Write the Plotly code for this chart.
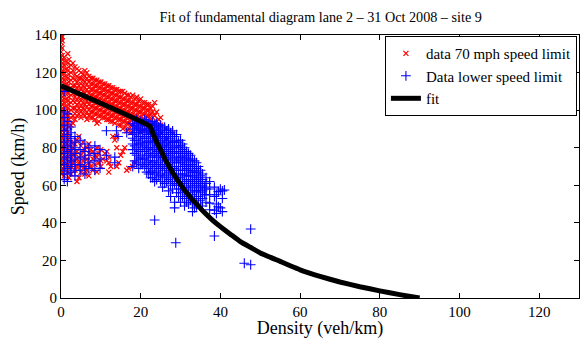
import plotly.graph_objects as go

# ---- data: (density column, [speeds]) ----
red_cols = [
    (0.0, [140, 139, 138, 136, 134, 131, 128, 126, 124, 122, 120, 118, 116, 114, 112, 110, 108, 106, 104, 102, 100, 98, 96, 94, 92, 90, 88, 86, 84, 82, 80, 78, 76, 74, 72, 70, 68, 66]),
    (0.3, [139, 137, 133, 129, 127, 125, 123, 121, 119, 117, 115, 113, 111, 109, 107, 105, 103, 101, 99, 97, 95, 93, 91, 89, 87, 85, 83, 81, 79, 77, 75, 73, 71, 69, 67]),
    (0.8, [128, 124, 120, 116, 112, 108, 104, 100, 96, 92, 88, 84, 80, 76, 72, 68, 65]),
    (1.3, [126, 122, 118, 114, 110, 106, 102, 98, 94, 90, 86, 82, 78, 74, 70]),
    (1.7, [130, 125, 121, 117, 113, 109, 105, 101, 97, 93, 88, 84, 79, 75, 71, 67]),
    (2.0, [127, 123, 119, 115, 111, 107, 103, 99, 95, 91, 86, 81, 77, 73, 69, 64]),
    (2.5, [124, 120, 116, 112, 108, 104, 100, 96, 92, 83, 78, 74, 70, 66]),
    (3.0, [125, 121, 117, 113, 109, 105, 101, 97, 93, 80, 76, 72]),
    (3.5, [123, 119, 116, 113, 110, 107, 104, 101, 98, 95, 82, 77, 73, 68]),
    (4.0, [122, 118, 115, 112, 109, 106, 103, 100, 97, 84, 78, 74, 70, 62]),
    (4.5, [121, 117, 113, 110, 107, 104, 101, 98, 86, 75, 72, 64]),
    (5.0, [120, 117, 114, 111, 108, 105, 102, 99, 96, 81, 76, 71, 67]),
    (5.5, [119, 116, 113, 110, 107, 104, 101, 98, 83, 78, 73, 69]),
    (6.0, [121, 118, 115, 112, 109, 106, 103, 100, 97, 79, 75, 70, 66]),
    (6.5, [120, 117, 114, 111, 108, 105, 102, 99, 95, 80, 74, 68]),
    (7.0, [118, 115, 112, 109, 106, 103, 100, 97, 82, 77, 72, 65]),
    (7.5, [117, 114, 111, 108, 105, 102, 99, 96, 79, 70]),
    (8.0, [117, 114, 111, 108, 105, 102, 99, 96, 78, 74, 68]),
    (8.5, [116, 113, 110, 107, 104, 101, 98, 95, 76, 71]),
    (9.0, [116, 113, 110, 107, 104, 101, 98, 93, 80, 75, 67]),
    (9.5, [115, 112, 109, 106, 103, 100, 97, 94, 77, 72]),
    (10.0, [115, 112, 109, 106, 103, 100, 97, 79, 73, 70]),
    (10.5, [114, 111, 108, 105, 102, 99, 96, 74]),
    (11.0, [114, 111, 108, 105, 102, 99, 96, 77]),
    (11.5, [113, 110, 107, 104, 101, 98, 95, 78, 73]),
    (12.0, [113, 110, 107, 104, 101, 98, 95, 75, 72, 67]),
    (12.5, [112, 109, 106, 103, 100, 97, 94, 70]),
    (13.0, [112, 109, 106, 103, 100, 97, 94, 86]),
    (13.5, [111, 108, 105, 102, 99, 96, 93, 84]),
    (14.0, [111, 108, 105, 102, 99, 96, 86, 80, 70]),
    (14.5, [110, 107, 104, 101, 98, 95, 92, 72]),
    (15.0, [110, 107, 104, 101, 98, 95, 92, 76]),
    (15.5, [110, 106, 103, 100, 97, 94, 90, 78]),
    (16.0, [109, 106, 103, 100, 97, 94, 91, 80]),
    (16.5, [108, 105, 102, 99, 96, 93, 89, 68]),
    (17.0, [108, 105, 102, 99, 96, 93, 90, 69]),
    (17.5, [107, 104, 101, 98, 95, 92, 88]),
    (18.0, [108, 104, 101, 98, 95, 92, 89, 70]),
    (18.5, [106, 103, 100, 97, 94, 91, 72]),
    (19.0, [107, 103, 100, 97, 94, 91]),
    (19.5, [105, 102, 99, 96, 93, 90]),
    (20.0, [106, 102, 99, 96, 93, 90, 88]),
    (20.5, [104, 101, 98, 95, 92, 89]),
    (21.0, [104, 101, 98, 95, 92, 89]),
    (21.5, [103, 100, 97, 94, 91]),
    (22.0, [103, 100, 97, 94, 91, 88]),
    (22.5, [101, 98, 95, 92, 89]),
    (23.0, [102, 99, 96, 93, 90]),
    (23.5, [104, 97, 93, 89]),
    (24.0, [99, 94, 90, 87]),
    (24.5, [95, 91, 86]),
    (25.0, [96, 92, 88]),
    (26.4, [90.5, 85]),
    (28.0, [87.8]),
]

blue_cols = [
    (0.8, [110, 99, 96, 92, 89, 86, 83, 80, 77, 74, 71, 68, 66, 63]),
    (1.6, [98, 94, 90, 87, 84, 81, 78, 75, 72, 69, 66, 62]),
    (2.5, [91, 88, 85, 82, 79, 76, 73, 70, 67]),
    (3.5, [86, 83, 80, 77, 74, 71, 68, 65]),
    (4.8, [84, 79, 75, 71, 68]),
    (6.0, [82, 78, 74, 70, 66]),
    (7.0, [80, 76, 72, 69]),
    (8.5, [81, 77, 73, 68]),
    (9.8, [79, 74, 69]),
    (11.4, [89, 76]),
    (13.5, [75, 72]),
    (13.9, [89]),
    (14.3, [86]),
    (16.5, [88]),
    (18.0, [93, 90, 87, 85, 82, 79, 70]),
    (18.5, [92, 88, 84, 81, 77, 73]),
    (19.0, [95, 91, 88, 84, 80, 76, 72]),
    (19.5, [93, 89, 86, 82, 78, 74, 69]),
    (20.0, [94, 90, 86, 83, 79, 75, 71]),
    (20.5, [93, 89, 85, 82, 78, 74, 71]),
    (21.0, [95, 92, 88, 85, 81, 78, 74, 70]),
    (21.5, [94, 90, 87, 83, 80, 76, 72, 67]),
    (22.0, [93, 90, 87, 84, 80, 77, 73, 69, 66]),
    (22.5, [92, 89, 86, 83, 79, 75, 71, 67, 64]),
    (23.0, [94, 91, 88, 85, 82, 79, 76, 72, 68, 64]),
    (23.5, [92, 89, 86, 83, 80, 77, 73, 70, 66, 62, 41.5]),
    (24.0, [93, 90, 87, 84, 81, 78, 75, 71, 67, 63]),
    (24.5, [91, 88, 85, 82, 79, 76, 72, 69, 65]),
    (25.0, [92, 89, 86, 83, 80, 77, 74, 70, 66, 62]),
    (25.5, [90, 87, 84, 81, 78, 75, 71, 68, 64, 59]),
    (26.0, [91, 88, 85, 82, 79, 76, 73, 69, 65, 61]),
    (26.5, [89, 86, 83, 80, 77, 74, 70, 66, 62]),
    (27.0, [90, 87, 84, 81, 78, 75, 71, 67, 63, 57]),
    (27.5, [88, 85, 82, 79, 76, 72, 68, 64, 60, 54]),
    (28.0, [89, 86, 83, 80, 77, 74, 70, 66, 62, 58]),
    (28.5, [86, 83, 80, 77, 73, 69, 65, 61, 51, 48]),
    (28.8, [29.4]),
    (29.0, [87, 84, 81, 78, 75, 72, 68, 64, 60, 56]),
    (29.5, [83, 80, 77, 74, 70, 66, 62, 58, 54]),
    (30.0, [84, 81, 78, 75, 72, 68, 64, 60, 56, 51]),
    (30.5, [82, 79, 76, 73, 70, 66, 62, 58, 54]),
    (31.0, [80, 77, 74, 71, 68, 65, 61, 57, 53, 49]),
    (31.5, [78, 75, 72, 69, 66, 63, 59, 55, 51]),
    (32.0, [77, 74, 71, 68, 65, 62, 58, 54, 50]),
    (32.5, [76, 73, 70, 67, 63, 60, 56, 52]),
    (33.0, [74, 71, 68, 65, 62, 59, 55, 51, 46]),
    (33.5, [73, 70, 67, 64, 61, 57, 53, 48]),
    (34.0, [72, 69, 66, 63, 60, 57, 53, 49]),
    (34.5, [70, 67, 64, 61, 58, 54, 50]),
    (35.0, [68, 65, 62, 59, 56, 52]),
    (35.5, [66, 63, 60, 57, 53, 49]),
    (36.0, [59, 55]),
    (36.4, [64, 61, 58, 55, 51]),
    (37.3, [62, 58, 55, 50.5, 47]),
    (38.5, [59, 54, 46.8, 33]),
    (39.0, [55, 50, 45]),
    (39.5, [56.6, 48.6]),
    (40.0, [58, 48]),
    (40.5, [57, 53, 46]),
    (41.0, [57.5]),
    (46.0, [18.5]),
    (47.6, [36.7, 17.7]),
]

fit_k = [0, 22.3, 23, 24, 25, 26, 27, 28, 29, 30, 31, 32.5, 34, 36, 38, 40, 42.5,
         45, 47.5, 50, 55, 60, 65, 70, 75, 80, 85, 90]
fit_v = [113, 91.5, 88, 83, 79, 74.5, 70.5, 67, 63.5, 60.5, 57.5, 53.5, 50, 45.5,
         41.5, 38, 34, 30, 27, 24, 19.5, 15, 11.5, 8.5, 6, 3.8, 1.8, 0]

x_ticks = [0, 20, 40, 60, 80, 100, 120]
y_ticks = [0, 20, 40, 60, 80, 100, 120, 140]


def flatten(cols):
    xs, ys = [], []
    for k, vs in cols:
        for v in vs:
            xs.append(k)
            ys.append(v)
    return xs, ys


rk, rv = flatten(red_cols)
bk, bv = flatten(blue_cols)

FONT = "Liberation Serif, Times New Roman, serif"

fig = go.Figure()
fig.add_trace(go.Scatter(
    x=rk, y=rv, mode="markers", name="data 70 mph speed limit",
    marker=dict(symbol="x-thin", size=5, color="#ff0000",
                line=dict(color="#ff0000", width=1.2)),
))
fig.add_trace(go.Scatter(
    x=bk, y=bv, mode="markers", name="Data lower speed limit",
    marker=dict(symbol="cross-thin", size=7, color="#0000ff",
                line=dict(color="#0000ff", width=1.1)),
))
fig.add_trace(go.Scatter(
    x=fit_k, y=fit_v, mode="lines", name="fit",
    line=dict(color="black", width=5, shape="spline", smoothing=0.3),
))

axis_common = dict(
    showline=True, linecolor="black", linewidth=1, mirror="ticks",
    ticks="inside", ticklen=5, tickcolor="black", showgrid=False,
    zeroline=False, tickfont=dict(family=FONT, size=15, color="black"),
)

fig.update_layout(
    width=581, height=339,
    margin=dict(l=61, r=2, t=35, b=41),
    paper_bgcolor="white", plot_bgcolor="white",
    title=dict(text="Fit of fundamental diagram lane 2 \u2013 31 Oct 2008 \u2013 site 9",
               x=0.552, xanchor="center", y=0.965, yanchor="top",
               font=dict(family=FONT, size=14.2, color="black")),
    xaxis=dict(range=[0, 130], tickvals=x_ticks,
               title=dict(text="Density (veh/km)", standoff=3,
                          font=dict(family=FONT, size=18, color="black")),
               **axis_common),
    yaxis=dict(range=[0, 140], tickvals=y_ticks,
               title=dict(text="Speed (km/h)", standoff=5,
                          font=dict(family=FONT, size=18, color="black")),
               **axis_common),
    legend=dict(x=0.996, y=0.996, xanchor="right", yanchor="top",
                bgcolor="white", bordercolor="black", borderwidth=1,
                font=dict(family=FONT, size=15, color="black"),
                tracegroupgap=0, itemwidth=30),
    showlegend=True,
)

fig.write_html("out.html")
